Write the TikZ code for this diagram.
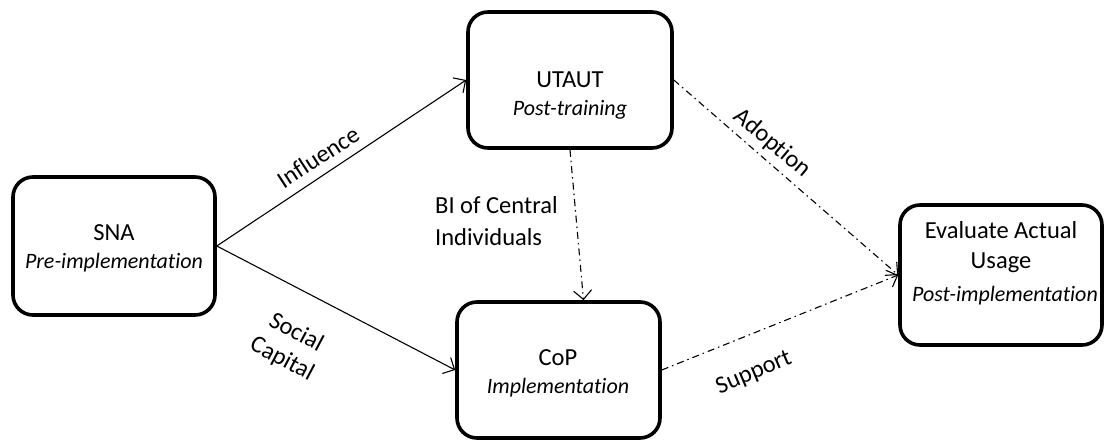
\documentclass[tikz,border=0pt]{standalone}
\usepackage{fontspec}
\setmainfont{Carlito}[Ligatures=NoCommon]
\usetikzlibrary{arrows.meta}
\begin{document}
\begin{tikzpicture}[x=1pt,y=-1pt,
  stage/.style={draw=black, line width=3.6pt, rounded corners=20pt, fill=white},
  lbl/.style={font=\fontsize{24.5}{30}\selectfont, align=center, inner sep=0pt},
  sub/.style={font=\fontsize{22}{30}\selectfont\itshape, inner sep=0pt},
  link/.style={line width=1.1pt, -{Straight Barb[length=9pt,width=18pt,line width=1.1pt]}},
  dashlink/.style={link, dash pattern=on 7pt off 4pt on 1.5pt off 4pt}
]
\useasboundingbox (0,0) rectangle (1106,443);

% stage boxes
\node[stage, minimum width=202pt, minimum height=138pt] (sna) at (114,246) {};
\node[stage, minimum width=204pt, minimum height=136pt] (utaut) at (570,80) {};
\node[stage, minimum width=203pt, minimum height=136pt] (cop) at (558.5,370) {};
\node[stage, minimum width=202pt, minimum height=140pt] (eval) at (1001,275) {};

% box texts
\node[lbl] (snaT) at (114,233) {SNA};
\node[sub] (snaS) at (114,263) {Pre-implementation};
\node[lbl] (utautT) at (570,80) {UTAUT};
\node[sub] (utautS) at (570,110) {Post-training};
\node[lbl] (copT) at (558,358) {CoP};
\node[sub] (copS) at (558,388) {Implementation};
\node[lbl] (evalT) at (1001,247) {Evaluate Actual\\Usage};
\node[sub] (evalS) at (1005,296) {Post-implementation};

% connectors
\draw[link] (sna.east) -- (utaut.west);
\draw[link] (sna.east) -- (cop.west);
\coordinate (copIn) at ([xshift=25pt]cop.north);
\draw[dashlink] (utaut.south) -- (copIn);
\draw[dashlink] (utaut.east) -- (eval.west);
\draw[dashlink] (cop.east) -- (eval.west);

% connector labels
\node[lbl, rotate=33] (influence) at (318,157) {Influence};
\node[lbl, rotate=-28] (social) at (289,346) {Social\\Capital};
\node[lbl, font=\fontsize{24.5}{32}\selectfont, align=left, anchor=north west] (bi) at (435,196) {BI of Central\\Individuals};
\node[lbl, rotate=-40] (adoption) at (772,143) {Adoption};
\node[lbl, rotate=23] (support) at (754,373) {Support};
\end{tikzpicture}
\end{document}
